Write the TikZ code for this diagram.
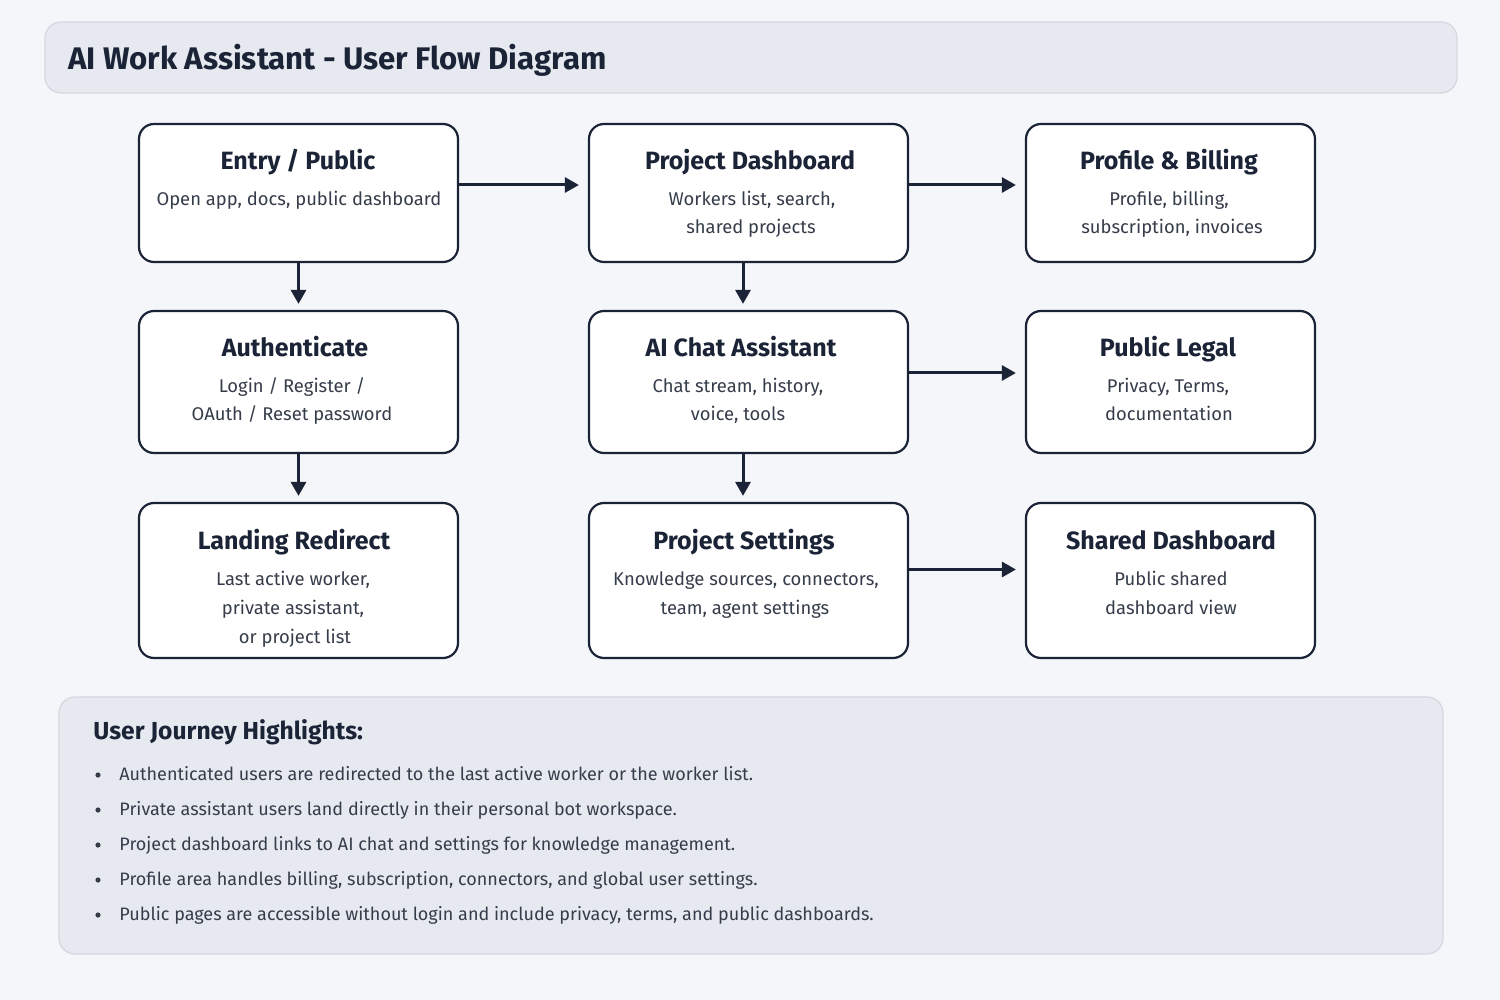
\documentclass[tikz,border=0pt]{standalone}
\usepackage{fontspec}
\setmainfont{Fira Sans}
\usetikzlibrary{arrows.meta,calc}
\definecolor{bgc}{HTML}{F4F6F9}
\definecolor{barfill}{HTML}{E6EAF0}
\definecolor{barline}{HTML}{D3D8E0}
\definecolor{navy}{HTML}{1B2336}
\definecolor{bodyc}{HTML}{363D4A}
\tikzset{
  box/.style={draw=navy, line width=1.1pt, fill=white, rounded corners=7.5pt, inner sep=0pt},
  ttl/.style={font=\bfseries\fontsize{12.5}{15}\selectfont, text=navy, inner sep=0pt, anchor=base},
  body/.style={font=\fontsize{9.2}{11}\selectfont, text=bodyc, inner sep=0pt, anchor=base},
  flow/.style={draw=navy, line width=1.5pt, -{Triangle[length=7pt,width=7.5pt]}},
  bul/.style={font=\fontsize{9}{11}\selectfont, text=bodyc, inner sep=0pt, anchor=base west},
}
\begin{document}
\begin{tikzpicture}[x=0.5pt,y=-0.5pt]
\fill[bgc] (0,0) rectangle (1500,1000);
\useasboundingbox (0,0) rectangle (1500,1000);
% title bar
\node[draw=barline, fill=barfill, line width=0.6pt, rounded corners=8pt, minimum width=706pt, minimum height=35.5pt, inner sep=0pt] (bar) at (751,57.5) {};
\node[font=\bfseries\fontsize{15.6}{18}\selectfont, text=navy, inner sep=0pt, anchor=west] (title) at (68,60) {AI Work Assistant - User Flow Diagram};
% boxes
\node[box, minimum width=159.5pt, minimum height=69pt] (entry) at (298.5,193) {};
\node[box, minimum width=159.5pt, minimum height=69pt] (dash) at (748.5,193) {};
\node[box, minimum width=144.5pt, minimum height=69pt] (prof) at (1170.5,193) {};
\node[box, minimum width=159.5pt, minimum height=71pt] (auth) at (298.5,382) {};
\node[box, minimum width=159.5pt, minimum height=71pt] (chat) at (748.5,382) {};
\node[box, minimum width=144.5pt, minimum height=71pt] (legal) at (1170.5,382) {};
\node[box, minimum width=159.5pt, minimum height=77.5pt] (land) at (298.5,580.5) {};
\node[box, minimum width=159.5pt, minimum height=77.5pt] (sett) at (748.5,580.5) {};
\node[box, minimum width=144.5pt, minimum height=77.5pt] (shared) at (1170.5,580.5) {};
% texts row 1
\node[ttl] (t1) at (298,170) {Entry / Public};
\node[body] (b1a) at (299,206) {Open app, docs, public dashboard};
\node[ttl] (t2) at (750,170) {Project Dashboard};
\node[body] (b2a) at (752,206) {Workers list, search,};
\node[body] (b2b) at (751,234) {shared projects};
\node[ttl] (t3) at (1169,170) {Profile \& Billing};
\node[body] (b3a) at (1169,206) {Profile, billing,};
\node[body] (b3b) at (1172,234) {subscription, invoices};
% row 2
\node[ttl] (t4) at (295,357) {Authenticate};
\node[body] (b4a) at (292,393) {Login / Register /};
\node[body] (b4b) at (292,421) {OAuth / Reset password};
\node[ttl] (t5) at (741,357) {AI Chat Assistant};
\node[body] (b5a) at (738,393) {Chat stream, history,};
\node[body] (b5b) at (738,421) {voice, tools};
\node[ttl] (t6) at (1168,357) {Public Legal};
\node[body] (b6a) at (1168,393) {Privacy, Terms,};
\node[body] (b6b) at (1169,421) {documentation};
% row 3
\node[ttl] (t7) at (294,549) {Landing Redirect};
\node[body] (b7a) at (293,585) {Last active worker,};
\node[body] (b7b) at (293,614) {private assistant,};
\node[body] (b7c) at (295,643) {or project list};
\node[ttl] (t8) at (744,549) {Project Settings};
\node[body] (b8a) at (746,585) {Knowledge sources, connectors,};
\node[body] (b8b) at (745,614) {team, agent settings};
\node[ttl] (t9) at (1171,549) {Shared Dashboard};
\node[body] (b9a) at (1171,585) {Public shared};
\node[body] (b9b) at (1171,614) {dashboard view};
% arrows
\draw[flow, shorten >=4.5pt] ($(entry.east)+(0,-8)$) -- ($(dash.west)+(0,-8)$);
\draw[flow, shorten >=4.5pt] ($(dash.east)+(0,-8)$) -- ($(prof.west)+(0,-8)$);
\draw[flow, shorten >=4.5pt] ($(chat.east)+(0,-9)$) -- ($(legal.west)+(0,-9)$);
\draw[flow, shorten >=4.5pt] ($(sett.east)+(0,-11)$) -- ($(shared.west)+(0,-11)$);
\draw[flow, shorten >=3pt] (entry.south) -- (auth.north);
\draw[flow, shorten >=3pt] (auth.south) -- (land.north);
\draw[flow, shorten >=3pt] ($(dash.south)+(-5.5,0)$) -- ($(chat.north)+(-5.5,0)$);
\draw[flow, shorten >=3pt] ($(chat.south)+(-5.5,0)$) -- ($(sett.north)+(-5.5,0)$);
% bottom panel
\node[draw=barline, fill=barfill, line width=0.6pt, rounded corners=8pt, minimum width=692pt, minimum height=128.5pt, inner sep=0pt] (panel) at (751,825.5) {};
\node[font=\bfseries\fontsize{12.3}{14}\selectfont, text=navy, inner sep=0pt, anchor=west] (ph) at (93,732) {User Journey Highlights:};
\foreach \i/\txt in {0/{Authenticated users are redirected to the last active worker or the worker list.},
  1/{Private assistant users land directly in their personal bot workspace.},
  2/{Project dashboard links to AI chat and settings for knowledge management.},
  3/{Profile area handles billing, subscription, connectors, and global user settings.},
  4/{Public pages are accessible without login and include privacy, terms, and public dashboards.}}{
  \node[bul] (bt\i) at (119,{780+35*\i}) {\txt};
  \node[circle, fill=bodyc, inner sep=0pt, minimum size=2.6pt] (bd\i) at (98,{775+35*\i}) {};
}
\end{tikzpicture}
\end{document}
